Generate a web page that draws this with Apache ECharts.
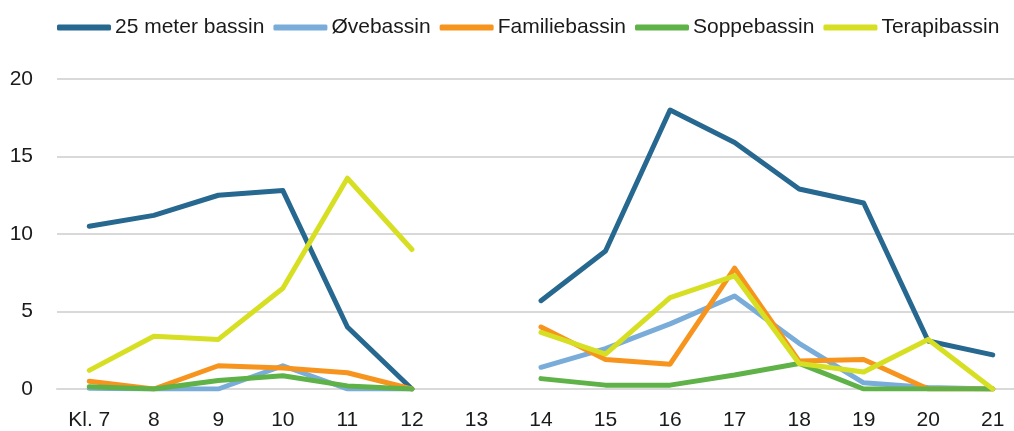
<!DOCTYPE html>
<html>
<head>
<meta charset="utf-8">
<script src="https://cdn.jsdelivr.net/npm/echarts@6/dist/echarts.min.js"></script>
<style>
  html, body { margin: 0; padding: 0; background: #fff; }
  #chart { width: 1014px; height: 431px; }
</style>
</head>
<body>
<div id="chart"></div>
<script>
const categories = ["Kl. 7", "8", "9", "10", "11", "12", "13", "14", "15", "16", "17", "18", "19", "20", "21"];
const meter25 = [10.5, 11.2, 12.5, 12.8, 4.0, 0, null, 5.7, 8.9, 18.0, 15.9, 12.9, 12.0, 3.1, 2.2];
const ovebassin = [0.05, 0, 0, 1.5, 0, 0, null, 1.4, 2.6, 4.2, 6.0, 2.95, 0.4, 0.1, 0];
const familiebassin = [0.5, 0, 1.5, 1.35, 1.05, 0, null, 4.0, 1.9, 1.6, 7.8, 1.8, 1.9, 0, 0];
const soppebassin = [0.15, 0, 0.55, 0.85, 0.2, 0, null, 0.67, 0.25, 0.25, 0.9, 1.65, 0, 0, 0];
const terapibassin = [1.2, 3.4, 3.2, 6.5, 13.6, 9.0, null, 3.65, 2.25, 5.9, 7.3, 1.65, 1.1, 3.2, 0];

const names = ["25 meter bassin", "Øvebassin", "Familiebassin", "Soppebassin", "Terapibassin"];
const colors = ["#276890", "#79acd9", "#f7941e", "#5fb247", "#d7df23"];
const values = [meter25, ovebassin, familiebassin, soppebassin, terapibassin];

const font = "'Liberation Sans', Arial, sans-serif";
const chart = echarts.init(document.getElementById("chart"));

const option = {
  animation: false,
  color: colors,
  textStyle: { fontFamily: font },
  legend: {
    top: 12,
    left: 52,
    icon: "roundRect",
    itemWidth: 54,
    itemHeight: 6,
    itemGap: 9,
    textStyle: { fontSize: 21, color: "#1a1a1a", fontFamily: font, padding: [0, 0, 0, -1] },
    data: names
  },
  // plot area runs a bit past the right edge, as in the original
  grid: { left: 57, width: 968, top: 79, bottom: 42, outerBoundsMode: "none", containLabel: false },
  xAxis: {
    type: "category",
    data: categories,
    boundaryGap: true,
    axisLine: { show: true, lineStyle: { color: "#d9d9d9", width: 2 } },
    axisTick: { show: false },
    axisLabel: { color: "#1a1a1a", fontSize: 21, margin: 21, fontFamily: font }
  },
  yAxis: {
    type: "value",
    min: 0,
    max: 20,
    interval: 5,
    axisLine: { show: false },
    axisTick: { show: false },
    splitLine: { lineStyle: { color: "#d9d9d9", width: 2 } },
    axisLabel: { color: "#1a1a1a", fontSize: 21, margin: 24, fontFamily: font }
  },
  series: names.map((n, i) => ({
    name: n,
    type: "line",
    data: values[i],
    symbol: "none",
    connectNulls: false,
    lineStyle: { width: 5, color: colors[i], cap: "round", join: "round" },
    itemStyle: { color: colors[i] }
  }))
};

chart.setOption(option);
</script>
</body>
</html>
